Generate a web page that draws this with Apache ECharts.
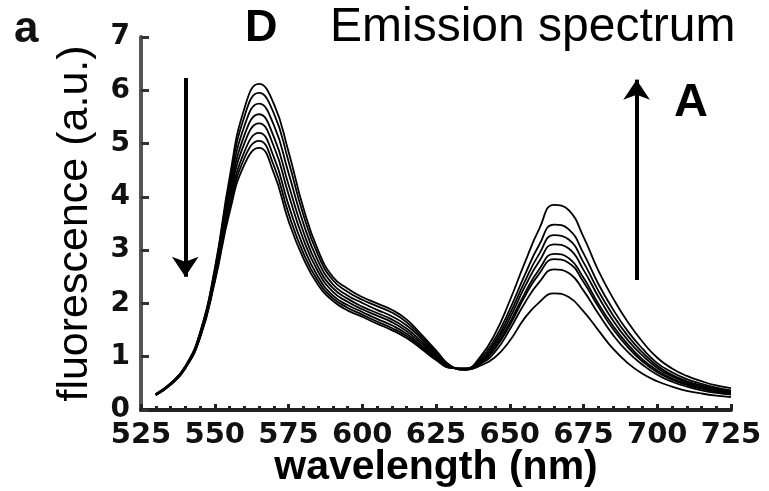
<!DOCTYPE html>
<html>
<head>
<meta charset="utf-8">
<title>Emission spectrum</title>
<script src="https://cdn.jsdelivr.net/npm/echarts@6/dist/echarts.min.js"></script>
<style>
  html, body { margin: 0; padding: 0; background: #fff; }
  #chart { width: 769px; height: 491px; }
</style>
</head>
<body>
<div id="chart"></div>
<script>
  // wavelength (nm) sampling of the traces
  const wavelengths = [530, 535, 540, 545, 550, 555, 560, 565, 570, 575, 580, 585, 590, 595, 600, 605, 610, 615, 620, 625, 630,
    635, 640, 645, 650, 655, 660, 665, 670, 675, 680, 685, 690, 695, 700, 705, 710, 715, 720, 725]

  // fluorescence traces: D peak going down, A peak going up
  const curve1 = [0.3, 0.5, 0.82, 1.45, 2.65, 4.35, 5.65, 6.12, 5.75, 4.85, 3.8, 3.0, 2.5, 2.28, 2.12, 2.0, 1.88, 1.7, 1.42, 1.12, 0.83,
    0.76, 0.83, 0.99, 1.3, 1.72, 2.02, 2.19, 2.12, 1.85, 1.5, 1.15, 0.88, 0.68, 0.54, 0.44, 0.36, 0.31, 0.27, 0.24]
  const curve2 = [0.3, 0.5, 0.81, 1.44, 2.62, 4.26, 5.5, 5.95, 5.57, 4.67, 3.67, 2.91, 2.44, 2.22, 2.07, 1.95, 1.83, 1.65, 1.38, 1.09, 0.82,
    0.76, 0.86, 1.09, 1.51, 2.0, 2.4, 2.64, 2.57, 2.24, 1.81, 1.41, 1.09, 0.85, 0.66, 0.53, 0.44, 0.37, 0.32, 0.29]
  const curve3 = [0.29, 0.49, 0.81, 1.42, 2.57, 4.15, 5.32, 5.75, 5.35, 4.45, 3.51, 2.8, 2.36, 2.15, 2.01, 1.88, 1.76, 1.59, 1.34, 1.06, 0.81,
    0.76, 0.88, 1.15, 1.59, 2.12, 2.56, 2.83, 2.76, 2.4, 1.94, 1.52, 1.18, 0.91, 0.71, 0.57, 0.47, 0.4, 0.34, 0.31]
  const curve4 = [0.29, 0.49, 0.8, 1.4, 2.53, 4.04, 5.15, 5.55, 5.13, 4.23, 3.35, 2.69, 2.29, 2.09, 1.94, 1.82, 1.7, 1.53, 1.29, 1.04, 0.81,
    0.76, 0.89, 1.18, 1.64, 2.18, 2.64, 2.93, 2.85, 2.48, 2.0, 1.58, 1.23, 0.95, 0.74, 0.59, 0.49, 0.41, 0.36, 0.32]
  const curve5 = [0.29, 0.48, 0.8, 1.39, 2.5, 3.95, 5.0, 5.38, 4.95, 4.05, 3.21, 2.6, 2.22, 2.03, 1.89, 1.77, 1.65, 1.48, 1.25, 1.01, 0.8,
    0.77, 0.91, 1.23, 1.72, 2.3, 2.79, 3.11, 3.03, 2.63, 2.13, 1.68, 1.31, 1.02, 0.79, 0.63, 0.52, 0.44, 0.38, 0.34]
  const curve6 = [0.28, 0.48, 0.79, 1.37, 2.46, 3.85, 4.84, 5.2, 4.75, 3.85, 3.07, 2.5, 2.15, 1.97, 1.84, 1.71, 1.59, 1.43, 1.21, 0.98, 0.8,
    0.77, 0.93, 1.28, 1.8, 2.4, 2.93, 3.28, 3.2, 2.77, 2.24, 1.78, 1.39, 1.08, 0.83, 0.66, 0.54, 0.46, 0.4, 0.35]
  const curve7 = [0.28, 0.47, 0.78, 1.36, 2.43, 3.77, 4.72, 5.05, 4.59, 3.69, 2.95, 2.42, 2.1, 1.92, 1.79, 1.66, 1.54, 1.39, 1.18, 0.96, 0.79,
    0.78, 0.96, 1.34, 1.89, 2.52, 3.1, 3.48, 3.39, 2.94, 2.37, 1.89, 1.48, 1.15, 0.88, 0.71, 0.58, 0.49, 0.42, 0.37]
  const curve8 = [0.28, 0.47, 0.78, 1.35, 2.4, 3.7, 4.6, 4.92, 4.45, 3.55, 2.85, 2.35, 2.05, 1.87, 1.75, 1.62, 1.5, 1.35, 1.15, 0.94, 0.79,
    0.78, 1.0, 1.43, 2.05, 2.75, 3.4, 3.85, 3.75, 3.25, 2.62, 2.1, 1.65, 1.28, 0.98, 0.78, 0.64, 0.54, 0.46, 0.41]

  const curves = [curve1, curve2, curve3, curve4, curve5, curve6, curve7, curve8]

  // arrows (data coords): D decreasing, A increasing
  const arrowD = [[540, 6.23], [540, 2.5]]
  const arrowA = [[693, 2.44], [693, 6.2]]

  const xTicks = { min: 525, max: 725, interval: 25 }
  const yTicks = { min: 0, max: 7, interval: 1 }

  const chart = echarts.init(document.getElementById('chart'))

  const lineSeries = curves.map((c, i) => {
    const s = {
      type: 'line',
      data: wavelengths.map((w, j) => [w, c[j]]),
      symbol: 'none',
      smooth: 0.5,
      lineStyle: { color: '#000', width: 1.8 },
      silent: true
    }
    if (i === 0) {
      s.markLine = {
        silent: true,
        symbol: ['none', 'arrow'],
        symbolSize: 20,
        label: { show: false },
        lineStyle: { color: '#000', width: 4, type: 'solid' },
        data: [
          [{ coord: arrowD[0] }, { coord: arrowD[1] }],
          [{ coord: arrowA[0] }, { coord: arrowA[1] }]
        ]
      }
    }
    return s
  })

  chart.setOption({
    animation: false,
    grid: { left: 141, right: 38, top: 37, bottom: 81, outerBoundsMode: 'none' },
    xAxis: {
      type: 'value',
      min: xTicks.min,
      max: xTicks.max,
      interval: xTicks.interval,
      name: 'wavelength (nm)',
      nameLocation: 'middle',
      nameGap: 37,
      nameMoveOverlap: false,
      nameTextStyle: { fontFamily: 'Liberation Sans', fontWeight: 'bold', fontSize: 41, color: '#000' },
      axisLine: { lineStyle: { color: '#222', width: 4 } },
      axisTick: { inside: true, length: 6, lineStyle: { color: '#222', width: 3 } },
      minorTick: { show: true, splitNumber: 5, length: 4, lineStyle: { color: '#222', width: 3 } },
      axisLabel: { fontFamily: 'DejaVu Sans', fontWeight: 'bold', fontSize: 29, color: '#111', margin: 11 },
      splitLine: { show: false }
    },
    yAxis: {
      type: 'value',
      min: yTicks.min,
      max: yTicks.max,
      interval: yTicks.interval,
      name: 'fluorescence (a.u.)',
      nameLocation: 'middle',
      nameGap: 44,
      nameMoveOverlap: false,
      nameTextStyle: { fontFamily: 'Liberation Sans', fontSize: 43, color: '#000' },
      axisLine: { lineStyle: { color: '#555', width: 4 } },
      axisTick: { inside: true, length: 8, lineStyle: { color: '#333', width: 3 } },
      axisLabel: { fontFamily: 'DejaVu Sans', fontWeight: 'bold', fontSize: 28, color: '#111', margin: 11 },
      splitLine: { show: false }
    },
    graphic: [
      { type: 'text', left: 14, top: 8, style: { text: 'a', font: 'bold 44px "Liberation Sans"', fill: '#111' } },
      { type: 'text', left: 245, top: 6, style: { text: 'D', font: 'bold 45px "Liberation Sans"', fill: '#000' } },
      { type: 'text', left: 330, top: 4, style: { text: 'Emission spectrum', font: '48px "Liberation Sans"', fill: '#000' } },
      { type: 'text', left: 674, top: 80, style: { text: 'A', font: 'bold 47px "Liberation Sans"', fill: '#000' } }
    ],
    series: lineSeries
  })
</script>
</body>
</html>
